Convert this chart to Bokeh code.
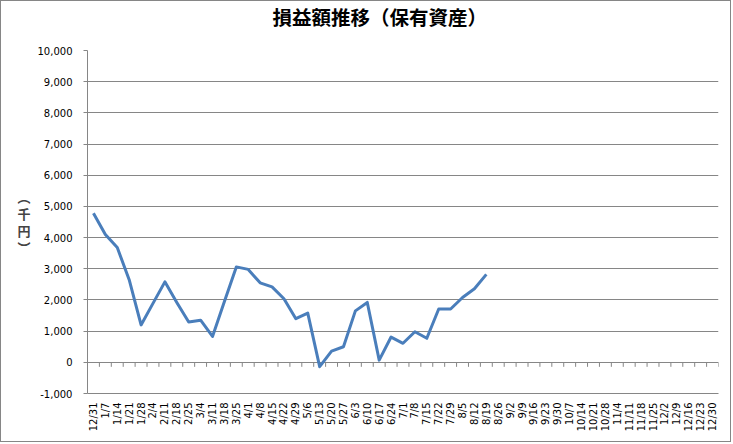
from bokeh.plotting import figure
from bokeh.models import ColumnDataSource, FixedTicker, NumeralTickFormatter, Range1d, FactorRange, Title
from bokeh.transform import dodge
from bokeh.embed import file_html
from bokeh.resources import INLINE
import math

# ---- data ----
dates = ["12/31", "1/7", "1/14", "1/21", "1/28", "2/4", "2/11", "2/18", "2/25", "3/4",
         "3/11", "3/18", "3/25", "4/1", "4/8", "4/15", "4/22", "4/29", "5/6", "5/13",
         "5/20", "5/27", "6/3", "6/10", "6/17", "6/24", "7/1", "7/8", "7/15", "7/22",
         "7/29", "8/5", "8/12", "8/19", "8/26", "9/2", "9/9", "9/16", "9/23", "9/30",
         "10/7", "10/14", "10/21", "10/28", "11/4", "11/11", "11/18", "11/25", "12/2",
         "12/9", "12/16", "12/23", "12/30"]
values = [4780, 4100, 3680, 2650, 1200, 1890, 2580, 1920, 1290, 1350,
          830, 1950, 3060, 2980, 2550, 2420, 2040, 1400, 1580, -140,
          360, 500, 1650, 1920, 70, 810, 610, 980, 770, 1710,
          1710, 2080, 2360, 2820]
y_ticks = list(range(-1000, 10001, 1000))
title_text = "損益額推移（保有資産）"
y_label = "︵\n千\n円\n︶"

GRID = "#868686"
LINE = "#4a7ebb"

p = figure(width=731, height=442, output_backend="svg", toolbar_location=None, title=None,
           x_range=FactorRange(factors=dates, range_padding=0),
           y_range=Range1d(y_ticks[0], y_ticks[-1]),
           min_border_left=86, min_border_right=14, min_border_top=49, min_border_bottom=50)
p.styles = {"border": "1px solid #868686"}
p.outline_line_color = None
p.background_fill_color = "white"
p.border_fill_color = "white"

# title: a blank spacer panel next to the frame, then the real title above it
p.add_layout(Title(text=" ", text_font_size="10px", standoff=5), "above")
p.add_layout(Title(text=title_text, text_font="Noto Sans CJK JP", text_font_size="19.5px",
                   text_font_style="bold", text_color="black", align="left",
                   vertical_align="top", offset=185, standoff=0), "above")

# y axis
p.yaxis.ticker = FixedTicker(ticks=y_ticks)
p.yaxis.formatter = NumeralTickFormatter(format="0,0")
p.yaxis.major_label_text_font = "DejaVu Sans"
p.yaxis.major_label_text_font_size = "10px"
p.yaxis.major_label_text_color = "black"
p.yaxis.axis_line_color = GRID
p.yaxis.major_tick_line_color = GRID
p.yaxis.major_tick_out = 4
p.yaxis.major_tick_in = 0
p.yaxis.minor_tick_line_color = None
p.yaxis.major_label_standoff = 11
p.yaxis.axis_label = y_label
p.yaxis.axis_label_orientation = "horizontal"
p.yaxis.axis_label_text_font = "Noto Sans CJK JP"
p.yaxis.axis_label_text_font_size = "13px"
p.yaxis.axis_label_text_font_style = "bold"
p.yaxis.axis_label_text_line_height = 0.9
p.yaxis.axis_label_standoff = 4

# x axis
p.xaxis.major_label_orientation = math.pi / 2
p.xaxis.major_label_text_font = "DejaVu Sans"
p.xaxis.major_label_text_font_size = "10px"
p.xaxis.major_label_text_color = "black"
p.xaxis.axis_line_color = GRID
p.xaxis.major_tick_line_color = None
p.xaxis.minor_tick_line_color = None
p.xaxis.major_tick_out = 0
p.xaxis.major_label_standoff = 9

# grid
p.xgrid.grid_line_color = None
p.ygrid.ticker = FixedTicker(ticks=y_ticks)
p.ygrid.grid_line_color = GRID
p.ygrid.grid_line_width = 1

# category tick marks on the zero line
tick_src = ColumnDataSource(dict(cat=dates))
tick_len = 145
p.segment(x0=dodge("cat", 0.5, range=p.x_range), x1=dodge("cat", 0.5, range=p.x_range),
          y0=0, y1=-tick_len, source=tick_src, line_color=GRID, line_width=1)

# data line
src = ColumnDataSource(dict(d=dates[:len(values)], v=values))
p.line(x="d", y="v", source=src, line_color=LINE, line_width=3, line_join="round")

open("out.html", "w").write(file_html(p, INLINE))
